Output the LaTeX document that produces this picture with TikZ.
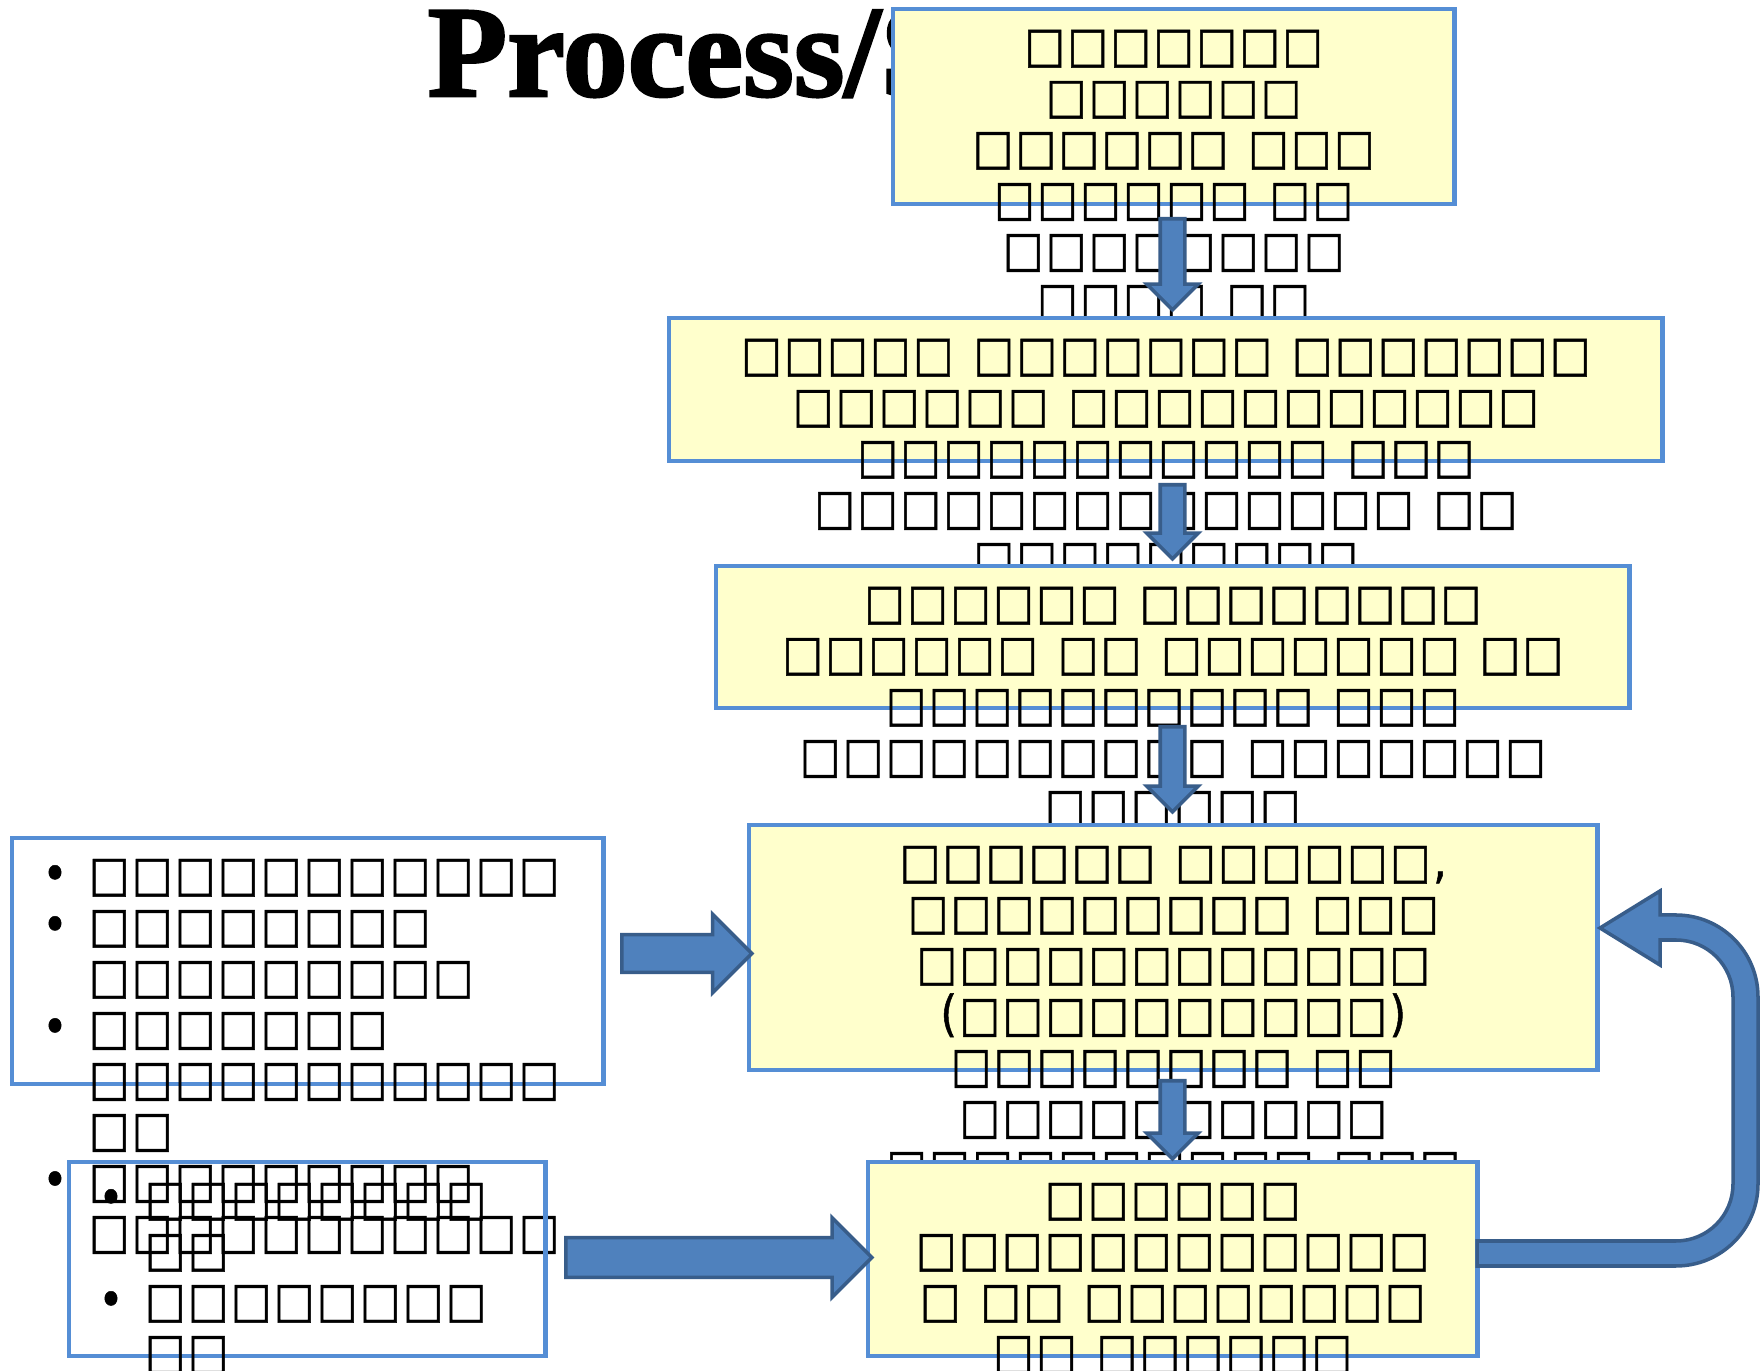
\documentclass[tikz,border=0pt]{standalone}
\usepackage{fontspec}
\usepackage{graphicx}
\usetikzlibrary{shapes.arrows,calc}
\newfontfamily\tofu[FakeStretch=0.87,LetterSpace=5.1,FakeBold=1]{DejaVu Sans}
\newfontfamily\titlefont[FakeBold=2]{Liberation Serif}
\definecolor{boxfill}{HTML}{FFFFCC}
\definecolor{boxline}{HTML}{558ED5}
\definecolor{arrowfill}{HTML}{4F81BD}
\definecolor{arrowline}{HTML}{385D8A}
\newcommand\bulA{\llap{\makebox[0.68cm]{•}}}
\newcommand\tofusize{\tofu\fontsize{14}{14.51}\selectfont\spaceskip=0.2cm\relax}
\tikzset{
  stepbox/.style={draw=boxline, line width=1.3pt, inner sep=0pt, outer sep=0pt, anchor=north west},
  yelbox/.style={stepbox, fill=boxfill},
  txt/.style={inner sep=0pt, outer sep=0pt, align=center, anchor=north, font=\tofusize},
  txtl/.style={inner sep=0pt, outer sep=0pt, align=left, anchor=north west, font=\tofusize},
  barrow/.style={single arrow, draw=arrowline, fill=arrowfill, line width=1pt,
    inner xsep=0pt, single arrow tip angle=90, anchor=tail},
  smallarrow/.style={barrow, rotate=-90, inner ysep=0.105cm, single arrow head extend=0.135cm},
}
\begin{document}
\begin{tikzpicture}[x=0.01cm,y=-0.01cm]
\fill[white] (0,0) rectangle (1763,1371);
\useasboundingbox (0,0) rectangle (1763,1371);
\node[anchor=base west, inner sep=0pt, font=\titlefont\bfseries\fontsize{37}{40}\selectfont] (title) at (427,96) {Process/S};
% box 1
\node[yelbox, minimum width=5.61cm, minimum height=1.95cm] (b1) at (893,9) {};
\node[txt] (t1) at ($(b1.north)+(0,21)$) {□□□□□□□\\□□□□□□\\□□□□□□ □□□\\□□□□□□ □□\\□□□□□□□□\\□□□□ □□};
% box 2
\node[yelbox, minimum width=9.93cm, minimum height=1.43cm] (b2) at (669,318) {};
\node[txt] (t2) at ($(b2.north)+(0,21)$) {□□□□□ □□□□□□□ □□□□□□□\\□□□□□□ □□□□□□□□□□□\\□□□□□□□□□□□ □□□\\□□□□□□□□□□□□□□ □□\\□□□□□□□□□};
% box 3
\node[yelbox, minimum width=9.13cm, minimum height=1.42cm] (b3) at (716,566) {};
\node[txt] (t3) at ($(b3.north)+(0,21)$) {□□□□□□ □□□□□□□□\\□□□□□□ □□ □□□□□□□ □□\\□□□□□□□□□□ □□□\\□□□□□□□□□□ □□□□□□□\\□□□□□□};
% box 4
\node[yelbox, minimum width=8.48cm, minimum height=2.45cm] (b4) at (749,825) {};
\node[txt] (t4) at ($(b4.north)+(0,21)$) {□□□□□□ □□□□□□,\\□□□□□□□□□ □□□\\□□□□□□□□□□□□\\(□□□□□□□□□□)\\□□□□□□□□ □□\\□□□□□□□□□□\\□□□□□□□□□□ □□□};
% box 5
\node[yelbox, minimum width=6.09cm, minimum height=1.94cm] (b5) at (868,1162) {};
\node[txt] (t5) at ($(b5.north)+(0,21)$) {□□□□□□\\□□□□□□□□□□□□\\□ □□ □□□□□□□□\\□□ □□□□□□};
% left boxes
\node[stepbox, minimum width=5.91cm, minimum height=2.46cm] (bA) at (12,838) {};
\node[txtl] (tA) at ($(bA.north west)+(77,21)$) {\bulA □□□□□□□□□□□\\\bulA □□□□□□□□\\□□□□□□□□□\\\bulA □□□□□□□\\□□□□□□□□□□□\\□□\\\bulA □□□□□□□□□\\□□□□□□□□□□□};
\node[stepbox, minimum width=4.76cm, minimum height=1.94cm] (bB) at (69,1162) {};
\node[txtl] (tB) at ($(bB.north west)+(76,21)$) {\bulA □□□□□□□□\\□□\\\bulA □□□□□□□□\\□□};
% small down arrows
\node[smallarrow, minimum height=0.91cm] (a1) at (1172.5,217) {};
\node[smallarrow, minimum height=0.74cm] (a2) at (1172.5,483) {};
\node[smallarrow, minimum height=0.85cm] (a3) at (1172.5,725) {};
\node[smallarrow, minimum height=0.78cm] (a4) at (1172.5,1079) {};
% right arrows
\node[barrow, minimum height=1.30cm, inner ysep=0.17cm, single arrow head extend=0.205cm] (aL1) at (620,953.5) {};
\node[barrow, minimum height=3.06cm, inner ysep=0.18cm, single arrow head extend=0.20cm] (aL2) at (564,1257.5) {};
% U-turn feedback arrow
\draw[draw=arrowline, fill=arrowfill, line width=1pt]
  (1477,1241) -- (1676,1241) arc[start angle=90, end angle=0, radius=57]
  -- (1733,997) arc[start angle=0, end angle=-90, radius=57]
  -- (1660,940) -- (1660,965) -- (1600,928) -- (1660,891) -- (1660,915) -- (1676,915)
  arc[start angle=-90, end angle=0, radius=82]
  -- (1758,1184) arc[start angle=0, end angle=90, radius=82]
  -- (1477,1266) -- cycle;
\end{tikzpicture}
\end{document}
